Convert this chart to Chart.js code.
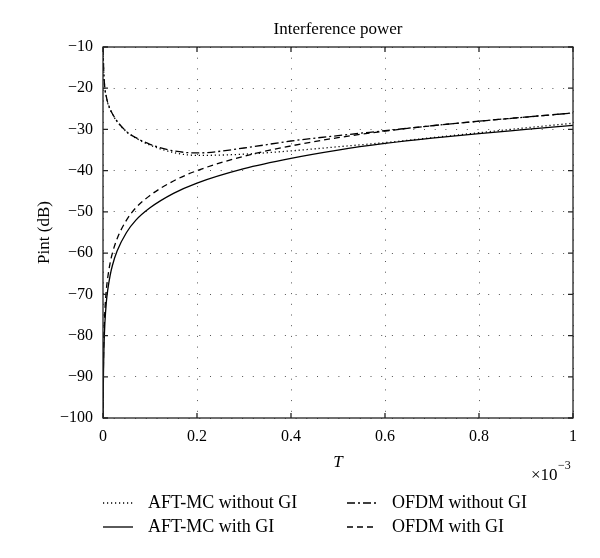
<!DOCTYPE html>
<html>
<head>
<meta charset="utf-8">
<script src="https://cdn.jsdelivr.net/npm/chart.js@4/dist/chart.umd.min.js"></script>
<style>
  body { margin: 0; background: #fff; }
  #wrap { width: 600px; height: 558px; }
</style>
</head>
<body>
<div id="wrap"><canvas id="intchart" width="600" height="558"></canvas></div>
<script>
// T values (x10^-3 s)
const tValues = [0, 0.001, 0.002, 0.004, 0.007, 0.01, 0.015, 0.02, 0.03, 0.05, 0.07, 0.1, 0.15, 0.2, 0.3, 0.4, 0.5, 0.6, 0.7, 0.8, 0.9, 1];

// Pint (dB)
const aftNoGI  = [-10.1, -14.1, -17.1, -20.1, -22.1, -23.6, -25.1, -26.3, -28.1, -30.6, -32.1, -33.8, -35.6, -36.3, -36, -35.2, -34.2, -33.2, -32, -30.8, -29.6, -28.5];
const aftGI    = [-100, -89, -83, -77, -72, -69, -65.5, -63, -59.5, -55, -52, -49, -45.5, -43, -39.5, -37, -35, -33.4, -32.1, -31, -30, -29];
const ofdmNoGI = [-10, -14, -17, -20, -22, -23.5, -25, -26.2, -28, -30.5, -32, -33.6, -35.2, -35.7, -34.5, -32.8, -31.5, -30.3, -29.1, -28, -27, -26];
const ofdmGI   = [-100, -86, -80, -74, -69, -66, -62.5, -60, -56.5, -52, -49, -46, -42.5, -40, -36.5, -34, -32, -30.4, -29.1, -28, -27, -26];

const xTicks = [0, 0.2, 0.4, 0.6, 0.8, 1];
const yTicks = [-10, -20, -30, -40, -50, -60, -70, -80, -90, -100];

const seriesNames = ['AFT-MC without GI', 'AFT-MC with GI', 'OFDM without GI', 'OFDM with GI'];
const dashes = [[1.2, 2.8], [], [8, 3, 2, 3], [6, 4]];

const serif = '"Liberation Serif", "DejaVu Serif", serif';

function pts(ys) {
  return tValues.map((t, i) => ({ x: t, y: ys[i] }));
}

function ds(label, ys, dash) {
  return {
    label: label,
    data: pts(ys),
    borderColor: '#000',
    borderWidth: 1.3,
    borderDash: dash,
    pointRadius: 0,
    fill: false,
    cubicInterpolationMode: 'monotone'
  };
}

const minus = s => String(s).replace('-', '\u2212');

// frame, inward ticks, titles, legend
const decor = {
  id: 'decor',
  afterDraw(chart) {
    const c = chart.ctx;
    const a = chart.chartArea;
    const xs = chart.scales.x, ys = chart.scales.y;
    c.save();
    c.strokeStyle = '#222';
    c.lineWidth = 1.3;
    c.setLineDash([]);
    c.strokeRect(a.left, a.top, a.right - a.left, a.bottom - a.top);
    c.beginPath();
    xTicks.forEach(t => {
      const px = xs.getPixelForValue(t);
      c.moveTo(px, a.bottom); c.lineTo(px, a.bottom - 5);
      c.moveTo(px, a.top); c.lineTo(px, a.top + 5);
    });
    yTicks.forEach(t => {
      const py = ys.getPixelForValue(t);
      c.moveTo(a.left, py); c.lineTo(a.left + 5, py);
      c.moveTo(a.right, py); c.lineTo(a.right - 5, py);
    });
    c.stroke();

    c.fillStyle = '#000';
    c.font = '17px ' + serif;
    c.textAlign = 'center';
    c.textBaseline = 'middle';
    c.fillText('Interference power', (a.left + a.right) / 2, 30);

    c.font = 'italic 17px ' + serif;
    c.fillText('T', (a.left + a.right) / 2, 463);

    c.font = '17px ' + serif;
    c.textAlign = 'left';
    c.fillText('\u00d710', 531, 476);
    c.font = '12px ' + serif;
    c.fillText('\u22123', 558, 466);

    c.save();
    c.translate(45, (a.top + a.bottom) / 2);
    c.rotate(-Math.PI / 2);
    c.font = '17px ' + serif;
    c.textAlign = 'center';
    c.fillText('Pint (dB)', 0, 0);
    c.restore();

    // legend
    const cols = [103, 347], rows = [503, 527];
    const order = [[0, 0, 0], [1, 0, 1], [2, 1, 0], [3, 1, 1]];
    order.forEach(o => {
      const x0 = cols[o[1]], y0 = rows[o[2]];
      c.beginPath();
      c.setLineDash(dashes[o[0]]);
      c.lineWidth = 1.3;
      c.strokeStyle = '#000';
      c.moveTo(x0, y0); c.lineTo(x0 + 30, y0);
      c.stroke();
      c.setLineDash([]);
      c.font = '18px ' + serif;
      c.textAlign = 'left';
      c.fillText(seriesNames[o[0]], x0 + 45, y0);
    });
    c.restore();
  }
};

const ctx = document.getElementById('intchart').getContext('2d');

const intChart = new Chart(ctx, {
  type: 'line',
  data: {
    datasets: [
      ds(seriesNames[0], aftNoGI, dashes[0]),
      ds(seriesNames[1], aftGI, dashes[1]),
      ds(seriesNames[2], ofdmNoGI, dashes[2]),
      ds(seriesNames[3], ofdmGI, dashes[3])
    ]
  },
  options: {
    responsive: false,
    animation: false,
    layout: { padding: { left: 0, right: 27, top: 47, bottom: 100 } },
    plugins: { legend: { display: false }, title: { display: false }, tooltip: { enabled: false } },
    scales: {
      x: {
        type: 'linear',
        min: 0,
        max: 1,
        afterFit: s => { s.height = 40; },
        afterBuildTicks: s => { s.ticks = xTicks.map(v => ({ value: v })); },
        ticks: {
          color: '#000',
          padding: 9,
          maxRotation: 0,
          font: { family: serif, size: 16 },
          callback: v => String(Math.round(v * 10) / 10)
        },
        grid: { color: '#555', lineWidth: 1, drawTicks: false },
        border: { display: false, dash: [1, 9.7] }
      },
      y: {
        min: -100,
        max: -10,
        afterFit: s => { s.width = 103; },
        afterBuildTicks: s => { s.ticks = yTicks.map(v => ({ value: v })); },
        ticks: {
          color: '#000',
          padding: 10,
          font: { family: serif, size: 16 },
          callback: v => minus(v)
        },
        grid: { color: '#555', lineWidth: 1, drawTicks: false },
        border: { display: false, dash: [1, 9.7] }
      }
    }
  },
  plugins: [decor]
});
</script>
</body>
</html>
